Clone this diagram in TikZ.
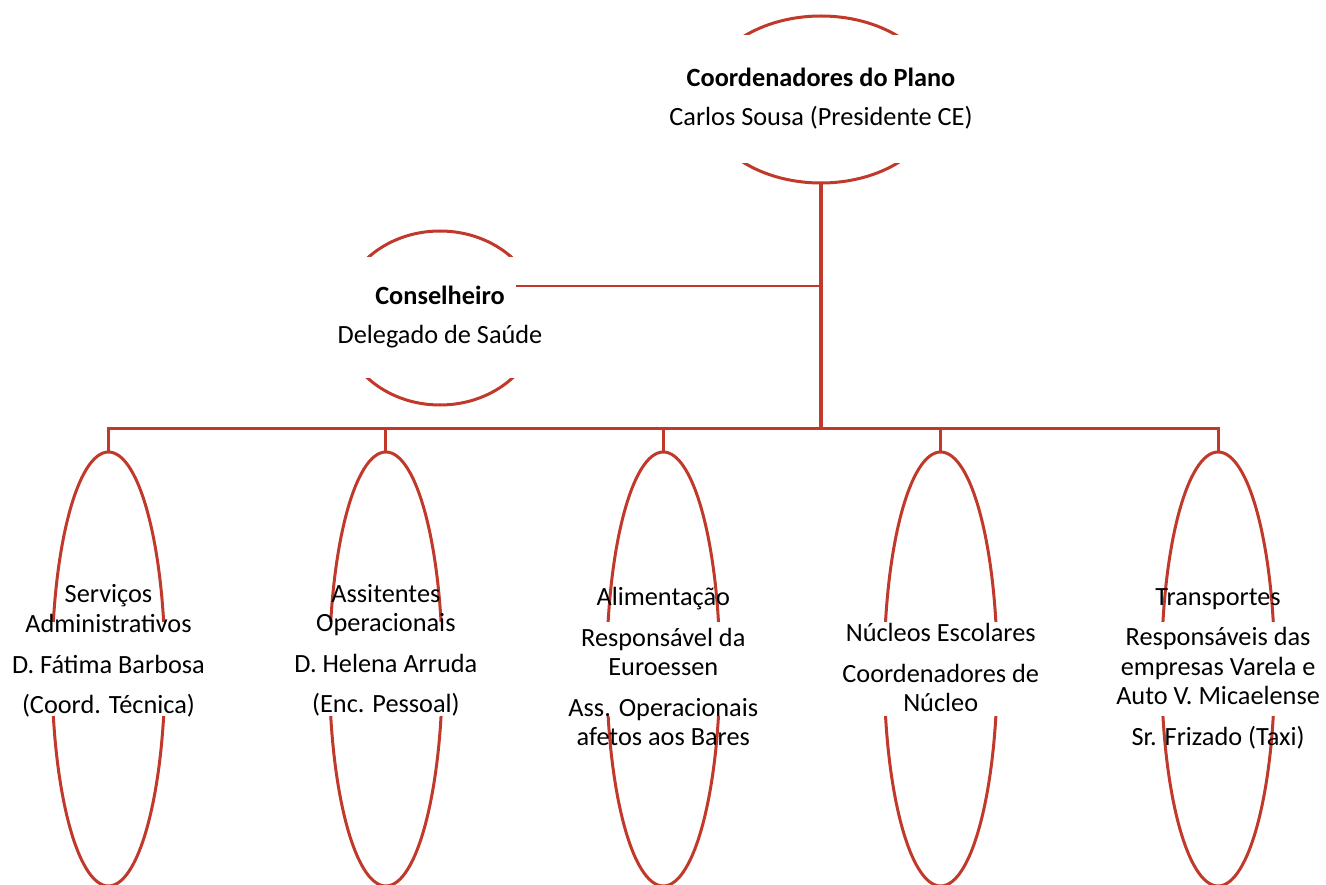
\documentclass[tikz,border=0pt]{standalone}
\usepackage{fontspec}
\setmainfont{Carlito}
\usetikzlibrary{shapes.geometric}
\definecolor{orgred}{RGB}{192,57,43}
\tikzset{
  x=1pt, y=-1pt,
  oval/.style={ellipse, draw=orgred, line width=3pt, inner sep=0pt, outer sep=0pt},
  gapbox/.style={fill=white, draw=none, inner sep=0pt, outer sep=0pt},
  link/.style={draw=orgred, line width=3.1pt},
  thinlink/.style={draw=orgred, line width=2.3pt},
  txt/.style={font=\fontsize{26.3}{30}\selectfont, anchor=base, inner sep=0pt, text=black},
  btxt/.style={txt, font=\fontsize{26.3}{30}\selectfont\bfseries}
}
\begin{document}
\begin{tikzpicture}
\clip (0,0) rectangle (1326,885);
\useasboundingbox (0,0) rectangle (1326,885);

% ellipses
\node[oval, minimum width=236pt, minimum height=167pt] (etop) at (821,99.5) {};
\node[oval, minimum width=200pt, minimum height=174pt] (econs) at (440,318) {};
\node[oval, minimum width=113pt, minimum height=434pt] (e1) at (108.5,669) {};
\node[oval, minimum width=113pt, minimum height=434pt] (e2) at (385.9,669) {};
\node[oval, minimum width=113pt, minimum height=434pt] (e3) at (663.3,669) {};
\node[oval, minimum width=113pt, minimum height=434pt] (e4) at (940.7,669) {};
\node[oval, minimum width=113pt, minimum height=434pt] (e5) at (1218.1,669) {};

% white text areas that interrupt the ellipses
\node[gapbox, minimum width=260pt, minimum height=128pt] (btop) at (821,99) {};
\node[gapbox, minimum width=220pt, minimum height=121pt] (bcons) at (440,317.5) {};
\foreach \i/\xx in {1/108.5,2/385.9,3/663.3,4/940.7,5/1218.1}
  \node[gapbox, minimum width=130pt, minimum height=94pt] (b\i) at (\xx,669) {};

% connectors
\coordinate (j) at (821,428.5);
\coordinate (jc) at (821,286);
\coordinate (consout) at (516,286);
\draw[link] (etop.south) -- (j);
\draw[thinlink] (consout) -- (jc);
\draw[link] ([xshift=-1.5pt]e1.north |- j) -- ([xshift=1.5pt]e5.north |- j);
\foreach \i in {1,...,5}
  \draw[link] (e\i.north |- j) -- (e\i.north);

% texts
\node[btxt] (t0a) at (821,87) {Coordenadores do Plano};
\node[txt] (t0b) at (821,126) {Carlos Sousa (Presidente CE)};

\node[btxt] (tca) at (440,305) {Conselheiro};
\node[txt] (tcb) at (440,344) {Delegado de Saúde};

\node[txt] (t1a) at (108.5,602.5) {Serviços};
\node[txt] (t1b) at (108.5,632) {Administrativos};
\node[txt] (t1c) at (108.5,673) {D. Fátima Barbosa};
\node[txt] (t1d) at (108.5,713.5) {(Coord. Técnica)};

\node[txt] (t2a) at (385.9,602.5) {Assitentes};
\node[txt] (t2b) at (385.9,631) {Operacionais};
\node[txt] (t2c) at (385.9,672) {D. Helena Arruda};
\node[txt] (t2d) at (385.9,712.5) {(Enc. Pessoal)};

\node[txt] (t3a) at (663.3,605) {Alimentação};
\node[txt] (t3b) at (663.3,646) {Responsável da};
\node[txt] (t3c) at (663.3,675.5) {Euroessen};
\node[txt] (t3d) at (663.3,716) {Ass. Operacionais};
\node[txt] (t3e) at (663.3,745.5) {afetos aos Bares};

\node[txt] (t4a) at (940.7,641) {Núcleos Escolares};
\node[txt] (t4b) at (940.7,682) {Coordenadores de};
\node[txt] (t4c) at (940.7,711) {Núcleo};

\node[txt] (t5a) at (1218.1,605) {Transportes};
\node[txt] (t5b) at (1218.1,645.5) {Responsáveis das};
\node[txt] (t5c) at (1218.1,675) {empresas Varela e};
\node[txt] (t5d) at (1218.1,704.5) {Auto V. Micaelense};
\node[txt] (t5e) at (1218.1,745.5) {Sr. Frizado (Taxi)};
\end{tikzpicture}
\end{document}
